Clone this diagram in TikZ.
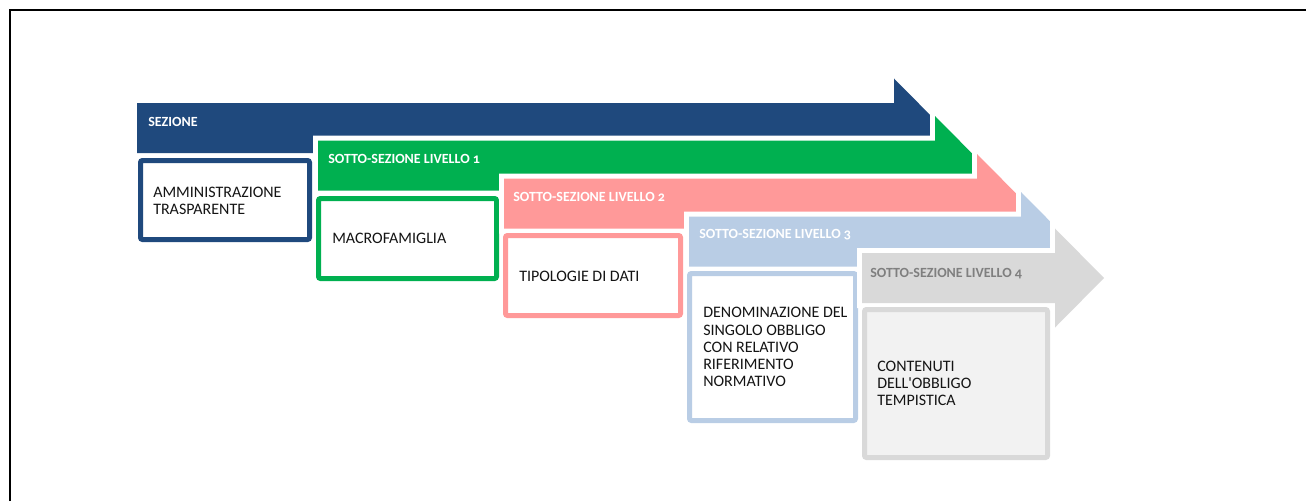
\documentclass[tikz,border=0pt]{standalone}
\usepackage{fontspec}
\setmainfont{Carlito}[Numbers=OldStyle]
\definecolor{cblue}{HTML}{1F497D}
\definecolor{cgreen}{HTML}{00B050}
\definecolor{cpink}{HTML}{FF9999}
\definecolor{clblue}{HTML}{B9CDE5}
\definecolor{cgrey}{HTML}{D9D9D9}
\definecolor{cgreyfill}{HTML}{F2F2F2}
\definecolor{cgreytext}{HTML}{7F7F7F}
\definecolor{ctext}{HTML}{141414}
\tikzset{
  arrowband/.style={fill=#1, preaction={draw=white, line width=7.5pt, line join=miter}},
  hdr/.style={anchor=base west, inner sep=0pt, font=\fontsize{10.5}{12}\selectfont\bfseries, text=white},
  boxtxt/.style={anchor=base west, inner sep=0pt, align=left, font=\fontsize{12}{12.9}\selectfont, text=ctext},
  boxframe/.style={draw=#1, line width=3.75pt, rounded corners=1.5pt, fill=white},
  outerframe/.style={draw=black, line width=1.5pt, line join=miter}
}
\begin{document}
\begin{tikzpicture}[x=0.75pt,y=-0.75pt]
\useasboundingbox (0,0) rectangle (1306,501);
\draw[outerframe] (10,501) -- (10,10) -- (1306,10);

% level 0
\path[arrowband=cblue] (137,103) -- (894,103) -- (894,78.5) -- (943,128) -- (894,177.5) -- (894,153) -- (137,153) -- cycle;
\node[hdr] (h1) at (148,126.5) {SEZIONE};
\path[boxframe=cblue] (140.5,160.5) rectangle (309.5,239.5);
\node[boxtxt] (t1) at (153,214.3) {AMMINISTRAZIONE\\TRASPARENTE};

% level 1
\path[arrowband=cgreen] (318,140.5) -- (935,140.5) -- (935,116) -- (984,165.5) -- (935,215) -- (935,190.5) -- (318,190.5) -- cycle;
\node[hdr] (h2) at (328,163) {SOTTO-SEZIONE LIVELLO 1};
\path[boxframe=cgreen] (318.5,198.5) rectangle (496.5,278.5);
\node[boxtxt] (t2) at (332,243) {MACROFAMIGLIA};

% level 2
\path[arrowband=cpink] (504,178.5) -- (977,178.5) -- (977,154) -- (1026,203.5) -- (977,253) -- (977,228.5) -- (504,228.5) -- cycle;
\node[hdr] (h3) at (513,201.5) {SOTTO-SEZIONE LIVELLO 2};
\path[boxframe=cpink] (505.5,235.5) rectangle (680.5,315.5);
\node[boxtxt] (t3) at (519,281) {TIPOLOGIE DI DATI};

% level 3
\path[arrowband=clblue] (689,216.5) -- (1021,216.5) -- (1021,192) -- (1070,241.5) -- (1021,291) -- (1021,266.5) -- (689,266.5) -- cycle;
\node[hdr] (h4) at (699,238) {SOTTO-SEZIONE LIVELLO 3};
\path[boxframe=clblue] (689.5,273.5) rectangle (855.5,420.5);
\node[boxtxt] (t4) at (703,386.6) {DENOMINAZIONE DEL\\SINGOLO OBBLIGO\\CON RELATIVO\\RIFERIMENTO\\NORMATIVO};

% level 4
\path[arrowband=cgrey] (862,253) -- (1055,253) -- (1055,228.5) -- (1104,278) -- (1055,327.5) -- (1055,303) -- (862,303) -- cycle;
\node[hdr, text=cgreytext] (h5) at (870,277) {SOTTO-SEZIONE LIVELLO 4};
\path[boxframe=cgrey, fill=cgreyfill] (864.5,309.5) rectangle (1047.5,457.5);
\node[boxtxt] (t5) at (877,405.5) {CONTENUTI\\DELL\textquotesingle OBBLIGO\\TEMPISTICA};
\end{tikzpicture}
\end{document}
